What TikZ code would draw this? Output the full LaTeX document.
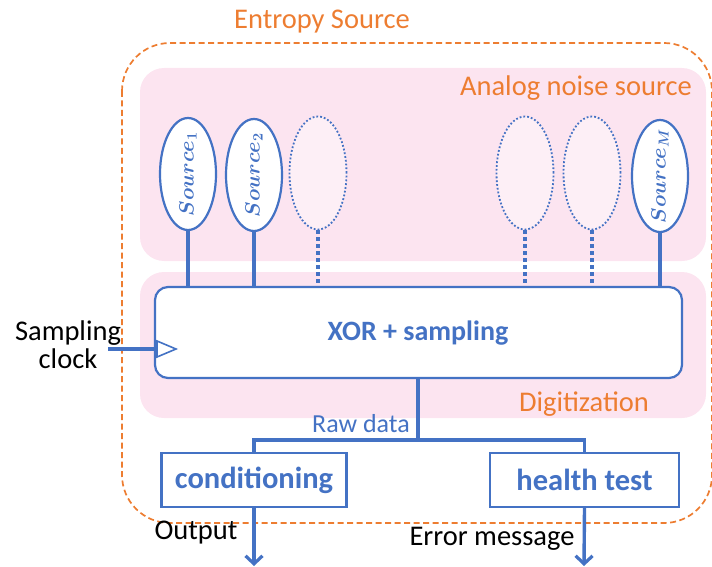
\documentclass[tikz,border=0pt]{standalone}
\usepackage{fontspec}
\setmainfont{Carlito}
\usetikzlibrary{arrows.meta,shapes.geometric}
\definecolor{blu}{RGB}{68,114,196}
\definecolor{org}{RGB}{237,125,49}
\definecolor{pinkbg}{RGB}{252,228,240}
\begin{document}
\begin{tikzpicture}[x=1pt,y=-1pt,
  region/.style={fill=pinkbg,draw=none,rounded corners=24pt},
  src/.style={ellipse,draw=blu,line width=2.2pt,fill=white,minimum width=56pt,minimum height=112pt,inner sep=0pt},
  ghost/.style={ellipse,draw=blu,line width=1.8pt,dotted,fill=pinkbg!60!white,minimum width=57pt,minimum height=113pt,inner sep=0pt},
  wire/.style={draw=blu,line width=3.4pt},
  dwire/.style={draw=blu,line width=3.8pt,dash pattern=on 4pt off 3pt},
  blockbox/.style={draw=blu,line width=2.4pt,fill=white,align=center,text=blu,font=\fontsize{30.5}{34}\selectfont\bfseries},
  lbl/.style={font=\fontsize{28.5}{32}\selectfont,text=org},
  blk/.style={font=\fontsize{28.5}{32}\selectfont,text=black,align=center},
  srctext/.style={rotate=90,text=blu,font=\fontsize{22}{26}\selectfont\boldmath},
  outarrow/.style={draw=blu,line width=3.4pt,-{Straight Barb[length=8pt,width=17pt,line width=3.2pt]}}]
\useasboundingbox (0,0) rectangle (712,567);

% entropy source boundary
\draw[org,line width=1.7pt,dash pattern=on 6pt off 3.5pt,rounded corners=48pt] (122,43) rectangle (712,523);
\node[lbl] (es) at (322,22) {Entropy Source};

% analog and digital regions
\path[region] (140,68) rectangle (706,261);
\path[region] (140,272) rectangle (706,418);
\node[lbl] (ans) at (576,88) {Analog noise source};
\node[lbl] (dig) at (584,404) {Digitization};

% sampling block
\node[draw=blu,line width=2.2pt,fill=white,rounded corners=13pt,minimum width=527pt,minimum height=91pt,inner sep=0pt] (xor) at (418.5,332.5) {};
\node[text=blu,font=\fontsize{28}{32}\selectfont\bfseries] (xort) at (418,333) {XOR + sampling};

% noise sources
\node[src] (s1) at (188,174) {};
\node[srctext] at (s1) {$Source_1$};
\node[src] (s2) at (254,175) {};
\node[srctext] at (s2) {$Source_2$};
\node[ghost] (g1) at (318,173) {};
\node[ghost] (g2) at (525,173) {};
\node[ghost] (g3) at (592,173) {};
\node[src] (sm) at (660,176) {};
\node[srctext] at (sm) {$Source_M$};

\draw[wire] (s1.south) -- (s1.south |- xor.north);
\draw[wire] (s2.south) -- (s2.south |- xor.north);
\draw[wire] (sm.south) -- (sm.south |- xor.north);
\draw[dwire] (g1.south) -- (g1.south |- xor.north);
\draw[dwire] (g2.south) -- (g2.south |- xor.north);
\draw[dwire] (g3.south) -- (g3.south |- xor.north);

% sampling clock input
\node[blk] (clk) at (68,345) {Sampling\\[-4pt]clock};
\coordinate (clkin) at (108,349);
\draw[wire] (clkin) -- (xor.west |- clkin);
\draw[draw=blu,line width=1.6pt,fill=white] (157,341) -- (176,349) -- (157,357) -- cycle;

% post-processing blocks
\node[blockbox,minimum width=185pt,minimum height=54pt,inner sep=0pt] (cond) at (254,480) {conditioning};
\node[blockbox,minimum width=189pt,minimum height=54pt,inner sep=0pt] (ht) at (584.5,480) {health test};

\coordinate (split) at (418,440);
\draw[wire] (xor.south -| split) -- (split);
\draw[wire] (cond.north) |- (split) -| (ht.north);
\node[text=blu,font=\fontsize{26}{30}\selectfont] (raw) at (361,424) {Raw data};

% outputs
\coordinate (outA) at (254,566);
\coordinate (outB) at (584,566);
\draw[outarrow] (cond.south) -- (outA);
\draw[outarrow] (ht.south) -- (outB);
\node[blk] (outl) at (196,533) {Output};
\node[blk] (errl) at (492,539) {Error message};
\end{tikzpicture}
\end{document}
